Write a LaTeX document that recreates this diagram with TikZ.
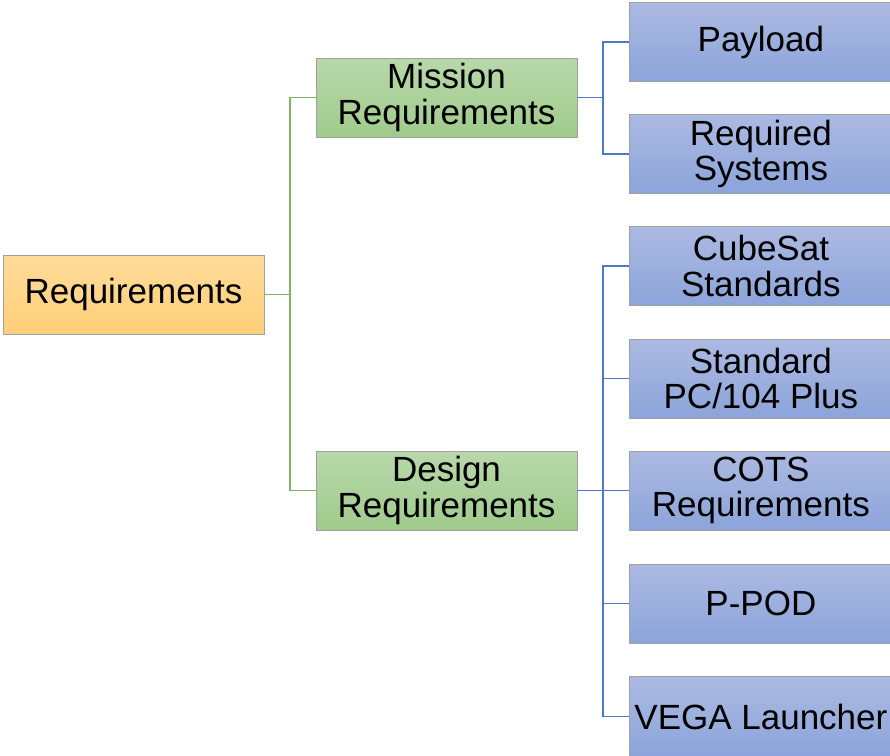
\documentclass[tikz,border=0pt]{standalone}
\usepackage{fontspec}
\setmainfont{Liberation Sans}
\definecolor{rootTop}{RGB}{255,218,152}
\definecolor{rootBot}{RGB}{255,208,122}
\definecolor{midTop}{RGB}{184,216,170}
\definecolor{midBot}{RGB}{160,203,140}
\definecolor{leafTop}{RGB}{172,186,226}
\definecolor{leafBot}{RGB}{140,164,218}
\definecolor{greenLine}{RGB}{130,178,100}
\definecolor{blueLine}{RGB}{80,120,200}
\definecolor{edgeGray}{RGB}{160,160,160}
\begin{document}
\begin{tikzpicture}[x=1pt,y=-1pt,
  box/.style={draw=edgeGray, line width=0.8pt, minimum width=261pt, minimum height=79pt,
    inner sep=0pt, align=center, font=\fontsize{35}{35.5}\selectfont},
  rootbox/.style={box, top color=rootTop, bottom color=rootBot},
  midbox/.style={box, top color=midTop, bottom color=midBot},
  leafbox/.style={box, top color=leafTop, bottom color=leafBot, minimum width=263pt, anchor=west},
  glink/.style={draw=greenLine, line width=1.8pt},
  blink/.style={draw=blueLine, line width=1.8pt}]
\useasboundingbox (0,0) rectangle (890,755);

% bus points
\coordinate (g) at (290,294.5);
\coordinate (bm) at (603,97.5);
\coordinate (bd) at (603,490.5);

% root
\node[rootbox] (req) at (133.5,294.5) {Requirements};

% second level
\node[midbox] (mis) at (446.5,97.5) {Mission\\Requirements};
\node[midbox] (des) at (446.5,490.5) {Design\\Requirements};

% leaves
\node[leafbox] (pay) at (629,42) {Payload};
\node[leafbox] (sys) at (629,154) {Required\\Systems};
\node[leafbox] (cub) at (629,266) {CubeSat\\Standards};
\node[leafbox] (pc) at (629,378.5) {Standard\\PC/104 Plus};
\node[leafbox] (cots) at (629,490.5) {COTS\\Requirements};
\node[leafbox] (pp) at (629,603.5) {P-POD};
\node[leafbox, minimum height=81pt] (vega) at (629,716.5) {VEGA Launcher};

% green connectors
\draw[glink] (req.east) -- (g);
\draw[glink] (g) |- (mis.west);
\draw[glink] (g) |- (des.west);

% blue connectors
\draw[blink] (mis.east) -- (bm);
\draw[blink] (bm) |- (pay.west);
\draw[blink] (bm) |- (sys.west);
\draw[blink] (des.east) -- (bd);
\foreach \n in {cub,pc,cots,pp,vega} \draw[blink] (bd) |- (\n.west);
\end{tikzpicture}
\end{document}
